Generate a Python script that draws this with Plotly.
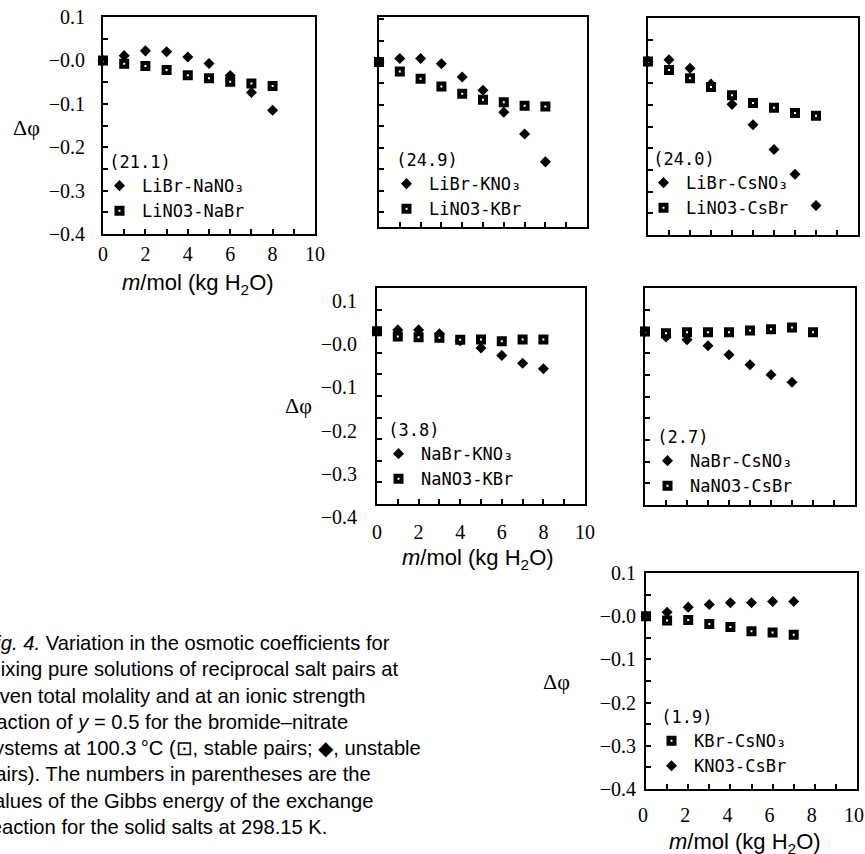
import plotly.graph_objects as go

W, H = 865, 854

# ---------------- data ----------------
M8 = [0, 1, 2, 3, 4, 5, 6, 7, 8]
M7 = [0, 1, 2, 3, 4, 5, 6, 7]

libr_nano3 = [0.0, 0.011, 0.022, 0.020, 0.008, -0.007, -0.035, -0.074, -0.115]
lino3_nabr = [0.0, -0.008, -0.013, -0.022, -0.034, -0.041, -0.049, -0.053, -0.059]

libr_kno3 = [0.0, 0.008, 0.008, -0.004, -0.035, -0.066, -0.117, -0.168, -0.233]
lino3_kbr = [0.0, -0.022, -0.039, -0.057, -0.074, -0.088, -0.094, -0.102, -0.104]

libr_csno3 = [0.0, 0.004, -0.016, -0.052, -0.099, -0.146, -0.203, -0.260, -0.332]
lino3_csbr = [0.0, -0.020, -0.039, -0.059, -0.078, -0.096, -0.107, -0.119, -0.125]

nabr_kno3 = [0.0, 0.003, 0.003, -0.006, -0.022, -0.039, -0.056, -0.074, -0.087]
nano3_kbr = [0.0, -0.012, -0.014, -0.015, -0.020, -0.019, -0.023, -0.019, -0.019]

nabr_csno3 = [0.0, -0.013, -0.019, -0.033, -0.054, -0.077, -0.100, -0.117]
nano3_csbr = [0.0, -0.004, -0.002, -0.002, -0.002, 0.002, 0.005, 0.009, -0.002]

kbr_csno3 = [0.0, -0.010, -0.009, -0.018, -0.025, -0.035, -0.038, -0.043]
kno3_csbr = [0.0, 0.009, 0.021, 0.027, 0.031, 0.031, 0.034, 0.034]

gibbs_labels = ["(21.1)", "(24.9)", "(24.0)", "(3.8)", "(2.7)", "(1.9)"]

X_TICK_VALS = [0, 2, 4, 6, 8, 10]
Y_TICK_VALS = [0.1, 0.0, -0.1, -0.2, -0.3, -0.4]
Y_TICK_TEXT = ["0.1", "\u22120.0", "\u22120.1", "\u22120.2", "\u22120.3", "\u22120.4"]

X_TITLE = "<i>m</i>/mol (kg H<sub>2</sub>O)"
Y_TITLE = "\u0394\u03c6"

CAPTION = ("<i>Fig. 4.</i> Variation in the osmotic coefficients for<br>"
           "mixing pure solutions of reciprocal salt pairs at<br>"
           "given total molality and at an ionic strength<br>"
           "fraction of <i>y</i> = 0.5 for the bromide\u2013nitrate<br>"
           "systems at 100.3\u2009\u00b0C (\u22a1, stable pairs; \u25c6, unstable<br>"
           "pairs). The numbers in parentheses are the<br>"
           "values of the Gibbs energy of the exchange<br>"
           "reaction for the solid salts at 298.15 K.")

# (diamond series, square series, names, x for diamonds, x for squares, diamond first in legend)
panels = [
    (libr_nano3, lino3_nabr, "LiBr-NaNO\u2083", "LiNO3-NaBr", M8, M8, True),
    (libr_kno3, lino3_kbr, "LiBr-KNO\u2083", "LiNO3-KBr", M8, M8, True),
    (libr_csno3, lino3_csbr, "LiBr-CsNO\u2083", "LiNO3-CsBr", M8, M8, True),
    (nabr_kno3, nano3_kbr, "NaBr-KNO\u2083", "NaNO3-KBr", M8, M8, True),
    (nabr_csno3, nano3_csbr, "NaBr-CsNO\u2083", "NaNO3-CsBr", M7, M8, True),
    (kno3_csbr, kbr_csno3, "KNO3-CsBr", "KBr-CsNO\u2083", M7, M7, False),
]

# ---------------- layout geometry (pixels) ----------------
# x0, x1, ytop, ybot, yrange, show labels, x-label standoff, y-label standoff,
# y-label shift, x-label shift
boxes = [
    (103, 315, 17, 234, [-0.4, 0.1], True, 1, 12, 0, 0),
    (379, 587, 17, 227, [-0.385, 0.105], False, 0, 0, 0, 0),
    (648, 858, 18, 235, [-0.4, 0.1], False, 0, 0, 0, 0),
    (377, 585, 288, 504, [-0.4, 0.1], True, 9, 14, 13, 0),
    (645, 855, 288, 505, [-0.4, 0.1], False, 0, 0, 0, 0),
    (646, 857, 573, 789, [-0.4, 0.1], True, 7, 4, 0, -3),
]
legend_pos = [(97, 146), (384, 144), (641, 143), (376, 414), (645, 421), (649, 701)]
ytitle_pos = [(26, 128), (298, 405), (556, 681)]
xtitle_pos = [(198, 284), (478, 559), (745, 843)]

def px(x):
    return x / W

def py(y):
    return 1 - y / H

TICK_FONT = dict(family="Liberation Serif", size=20, color="black")
LEG_FONT = dict(family="DejaVu Sans Mono", size=17, color="black")

fig = go.Figure()

for i, (dia, sq, dname, sname, xd, xs, dfirst) in enumerate(panels):
    n = "" if i == 0 else str(i + 1)
    leg = "legend" + n
    fig.add_trace(go.Scatter(
        x=xd, y=dia, mode="markers", name=dname,
        xaxis="x" + n, yaxis="y" + n, legend=leg,
        legendrank=1 if dfirst else 2,
        marker=dict(symbol="diamond", size=8.5, color="black", line=dict(width=0)),
        cliponaxis=False,
    ))
    fig.add_trace(go.Scatter(
        x=xs, y=sq, mode="markers", name=sname,
        xaxis="x" + n, yaxis="y" + n, legend=leg,
        legendrank=2 if dfirst else 1,
        marker=dict(symbol="square", size=6, color="white",
                    line=dict(width=4, color="black")),
        cliponaxis=False,
    ))

layout = dict(
    width=W, height=H,
    margin=dict(l=0, r=0, t=0, b=0, autoexpand=False),
    paper_bgcolor="white", plot_bgcolor="white",
    annotations=[],
)

for i, (x0, x1, yt, yb, yr, lab, xso, yso, ysh, xsh) in enumerate(boxes):
    n = "" if i == 0 else str(i + 1)
    layout["xaxis" + n] = dict(
        domain=[px(x0), px(x1)], range=[0, 10], anchor="y" + n,
        showline=True, mirror=True, linecolor="black", linewidth=2,
        ticks="inside", ticklen=5, tickwidth=1.5, tickcolor="black",
        tickmode="array", tickvals=X_TICK_VALS,
        minor=dict(ticks="inside", tickmode="linear", tick0=0, dtick=1,
                   ticklen=5, tickwidth=1.5, tickcolor="black"),
        showgrid=False, zeroline=False, showticklabels=lab, automargin=False,
        tickfont=TICK_FONT, ticklabelstandoff=xso, ticklabelshift=xsh,
        ticklabeloverflow="allow",
    )
    layout["yaxis" + n] = dict(
        domain=[py(yb), py(yt)], range=yr, anchor="x" + n,
        showline=True, mirror=True, linecolor="black", linewidth=2,
        ticks="inside", ticklen=5, tickwidth=1.5, tickcolor="black",
        tickmode="array", tickvals=Y_TICK_VALS, ticktext=Y_TICK_TEXT,
        minor=dict(ticks="inside", tickmode="linear", tick0=0, dtick=0.05,
                   ticklen=5, tickwidth=1.5, tickcolor="black"),
        showgrid=False, zeroline=False, showticklabels=lab, automargin=False,
        tickfont=TICK_FONT, ticklabelstandoff=yso, ticklabelshift=ysh,
        ticklabeloverflow="allow",
    )
    lx, ly = legend_pos[i]
    layout["legend" + n] = dict(
        x=px(lx), y=py(ly), xanchor="left", yanchor="top",
        bgcolor="rgba(0,0,0,0)", borderwidth=0, itemwidth=35,
        font=LEG_FONT, title=dict(text="\u00a0" + gibbs_labels[i], font=LEG_FONT),
        traceorder="normal", itemclick=False, itemdoubleclick=False,
    )

for (x, y) in ytitle_pos:
    layout["annotations"].append(dict(
        x=px(x), y=py(y), xref="paper", yref="paper", text=Y_TITLE,
        showarrow=False, xanchor="center", yanchor="middle",
        font=dict(family="Liberation Serif", size=22, color="black")))
for (x, y) in xtitle_pos:
    layout["annotations"].append(dict(
        x=px(x), y=py(y), xref="paper", yref="paper", text=X_TITLE,
        showarrow=False, xanchor="center", yanchor="middle",
        font=dict(family="Liberation Sans", size=22, color="black")))

layout["annotations"].append(dict(
    x=px(-18), y=py(735), xref="paper", yref="paper", text=CAPTION,
    showarrow=False, xanchor="left", yanchor="middle", align="left",
    font=dict(family="Liberation Sans", size=20.2, color="black")))

fig.update_layout(**layout)
# place the figure at the page's top-left corner (no default body margin), no toolbar
fig.write_html("out.html",
               config={"displayModeBar": False},
               post_script="document.body.style.margin='0';document.body.style.padding='0';")
